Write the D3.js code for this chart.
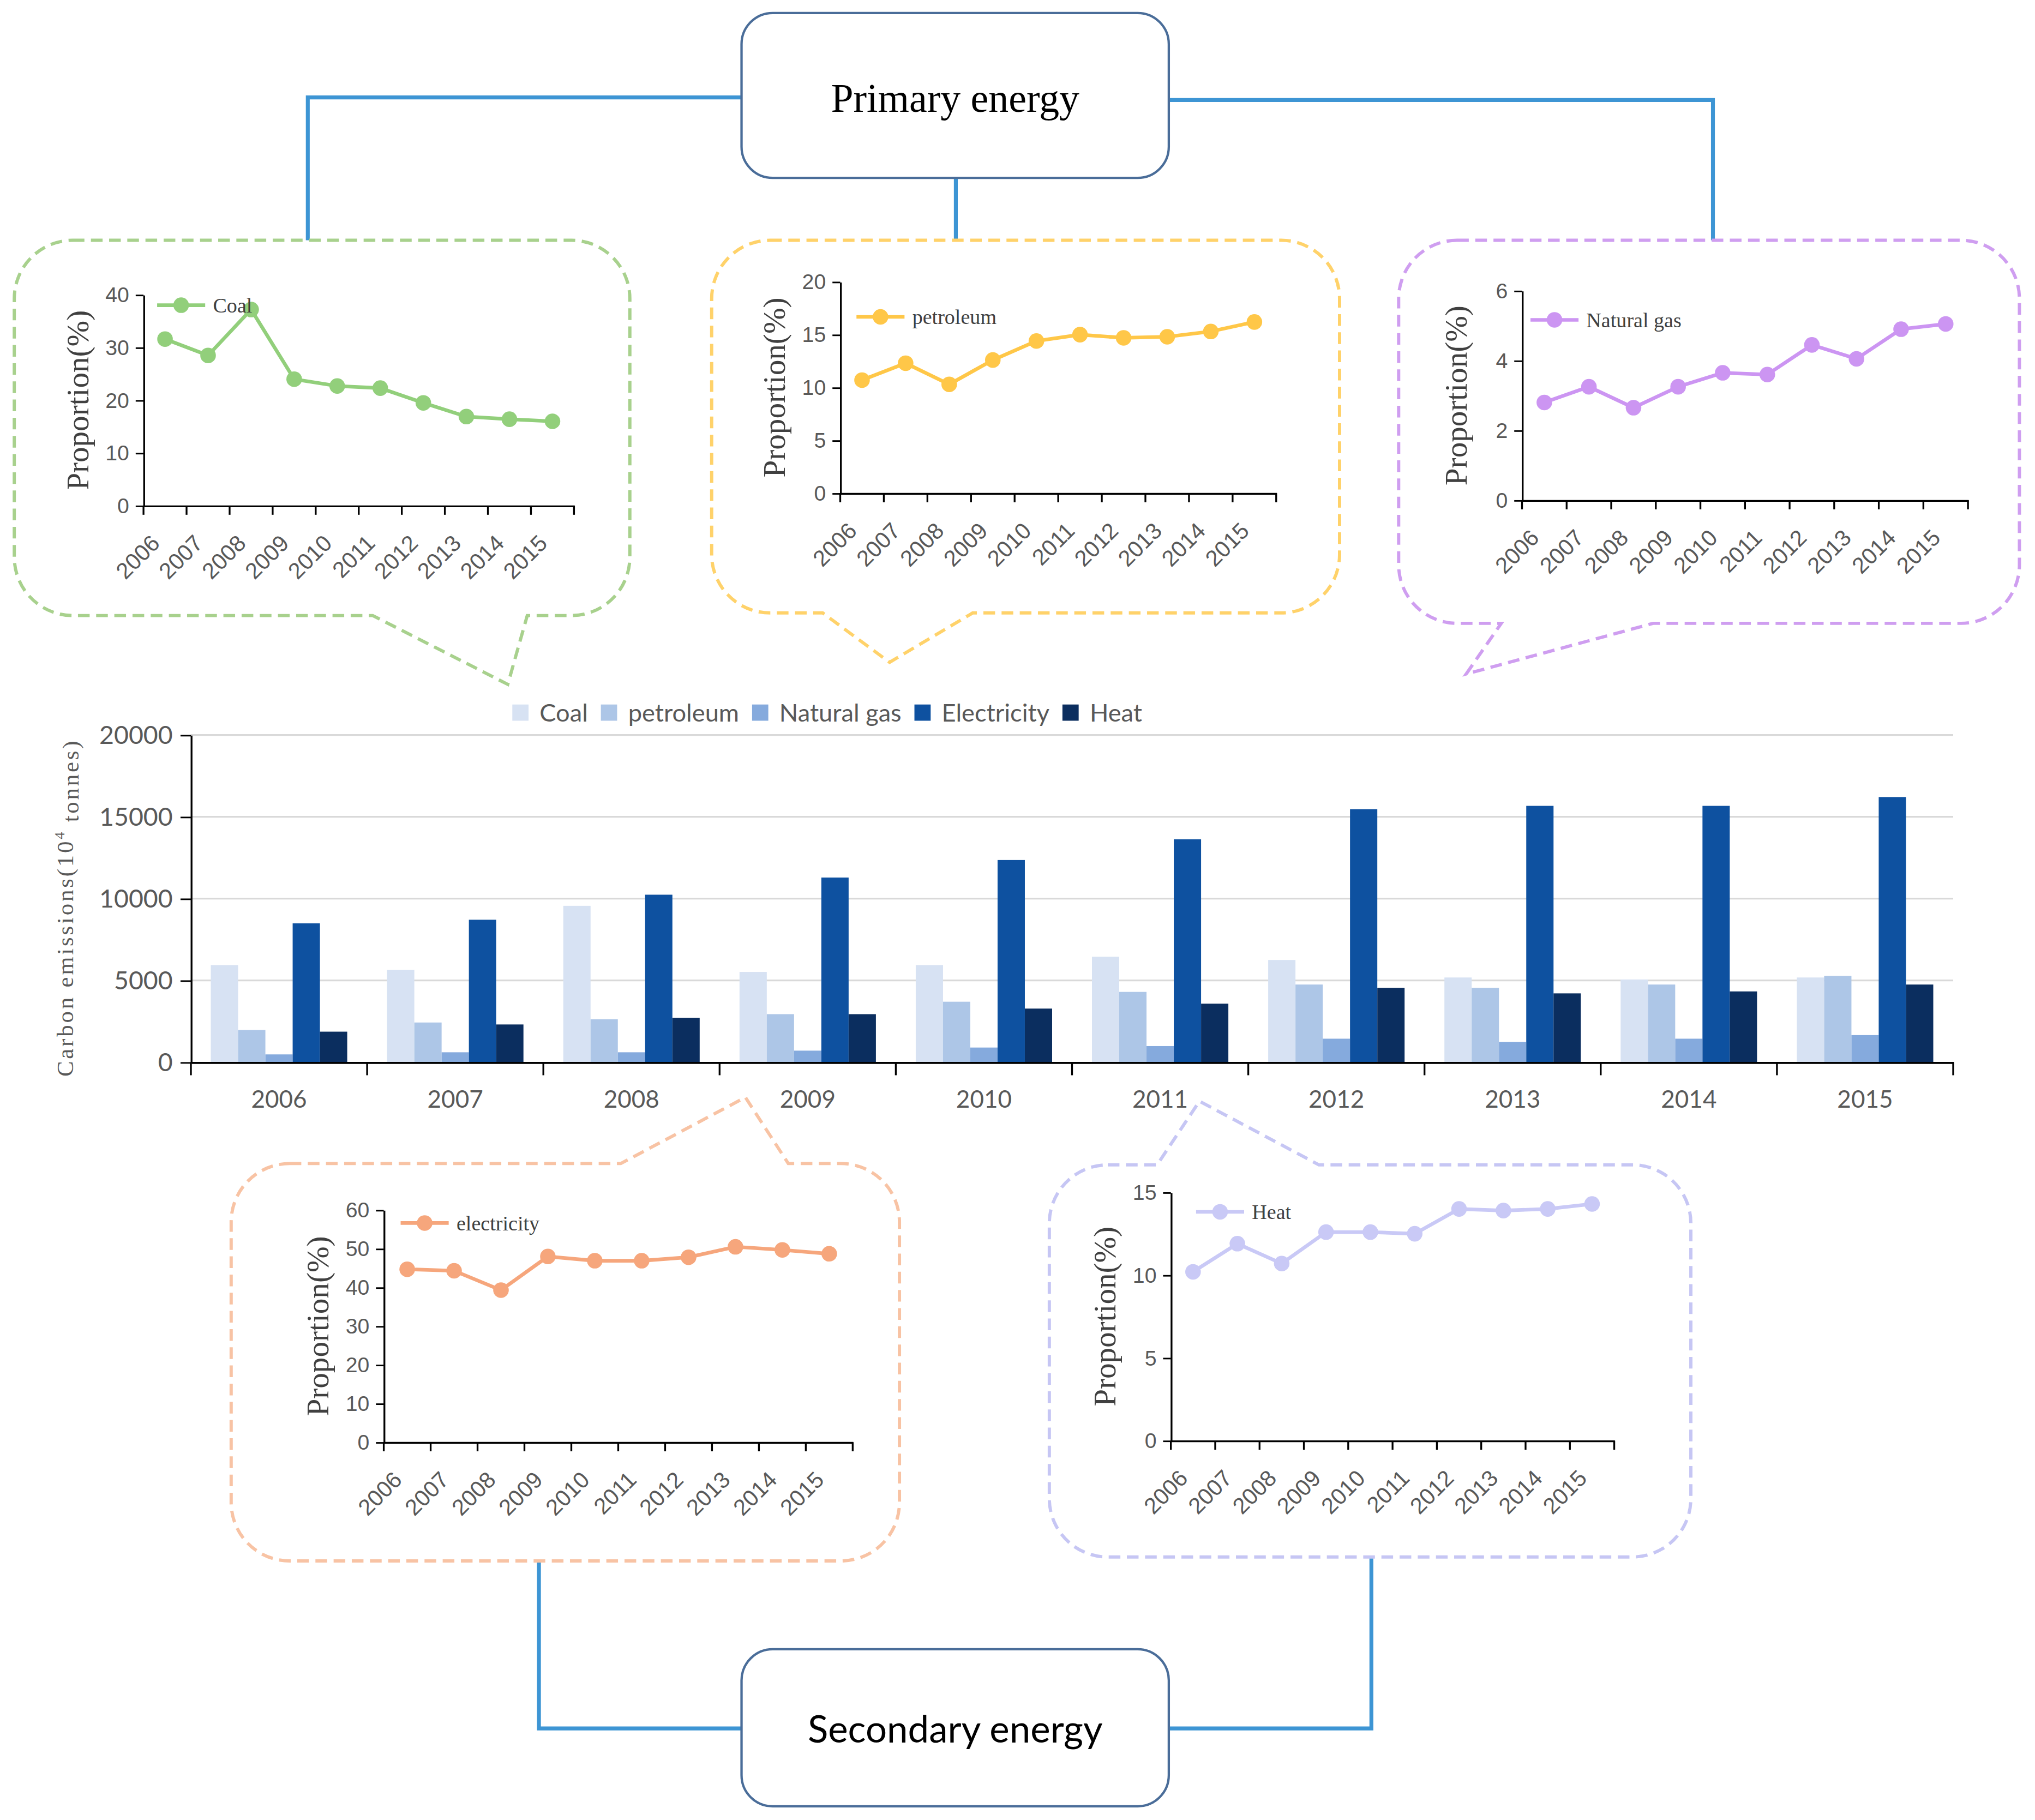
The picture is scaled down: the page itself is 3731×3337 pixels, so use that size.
<!DOCTYPE html>
<html>
<head>
<meta charset="utf-8">
<script src="https://cdn.jsdelivr.net/npm/d3@7"></script>
<style>
html, body { margin: 0; padding: 0; background: #fff; }
svg { display: block; }
</style>
</head>
<body>
<div id="chart"></div>
<script>
// years shown on every axis
var years = ["2006", "2007", "2008", "2009", "2010", "2011", "2012", "2013", "2014", "2015"];

// proportion of each energy type (%)
var coalShare = [31.6, 28.5, 37.2, 24.0, 22.7, 22.3, 19.5, 16.9, 16.4, 16.0];
var petroleumShare = [10.7, 12.3, 10.3, 12.6, 14.4, 15.0, 14.7, 14.8, 15.3, 16.2];
var gasShare = [2.8, 3.25, 2.65, 3.25, 3.65, 3.6, 4.45, 4.05, 4.9, 5.05];
var electricityShare = [44.7, 44.3, 39.3, 48.0, 46.9, 46.9, 47.8, 50.5, 49.7, 48.7];
var heatShare = [10.2, 11.9, 10.7, 12.6, 12.6, 12.5, 14.0, 13.9, 14.0, 14.3];

var coalTicks = [0, 10, 20, 30, 40];
var petroleumTicks = [0, 5, 10, 15, 20];
var gasTicks = [0, 2, 4, 6];
var electricityTicks = [0, 10, 20, 30, 40, 50, 60];
var heatTicks = [0, 5, 10, 15];

// carbon emissions (10^4 tonnes)
var emissionSeries = ["Coal", "petroleum", "Natural gas", "Electricity", "Heat"];
var coalEmission = [5940, 5650, 9560, 5520, 5940, 6450, 6250, 5180, 5060, 5180];
var petroleumEmission = [1970, 2430, 2630, 2940, 3700, 4300, 4750, 4550, 4750, 5280];
var gasEmission = [480, 610, 610, 710, 900, 990, 1440, 1240, 1440, 1660];
var electricityEmission = [8490, 8710, 10240, 11290, 12360, 13630, 15470, 15670, 15670, 16210];
var heatEmission = [1870, 2310, 2720, 2940, 3280, 3580, 4550, 4210, 4330, 4750];
var emissionTicks = [0, 5000, 10000, 15000, 20000];

var W = 1567, H = 1401.5;
var svg = d3.select("#chart").append("svg")
	.attr("width", 3731)
	.attr("height", 3337)
	.attr("viewBox", "0 0 " + W + " " + H);

svg.append("rect").attr("width", W).attr("height", H).attr("fill", "#fff");

var sansFont = "Lato, 'Liberation Sans', sans-serif";
var armFont = "'Liberation Sans', Arial, sans-serif";
var serifFont = "'Liberation Serif', 'Times New Roman', serif";
var grey = "#595959";
var plain = d3.format("d");

//Connectors between the title boxes and the callouts
var blue = "#3d95d4";
function connector(points)
{
	svg.append("path")
		.attr("d", d3.line()(points))
		.attr("fill", "none")
		.attr("stroke", blue)
		.attr("stroke-width", 3);
}
connector([[571, 75], [237, 75], [237, 186]]);
connector([[736, 137], [736, 186]]);
connector([[900, 77], [1319, 77], [1319, 186]]);
connector([[571, 1331], [415, 1331], [415, 1202]]);
connector([[900, 1331], [1056, 1331], [1056, 1199]]);

function titleBox(x, y, w, h, label, font, size, baseline)
{
	svg.append("rect")
		.attr("x", x).attr("y", y)
		.attr("width", w).attr("height", h)
		.attr("rx", 24).attr("ry", 24)
		.attr("fill", "#fff")
		.attr("stroke", "#4a6d99")
		.attr("stroke-width", 1.8);
	svg.append("text")
		.attr("x", x + w / 2)
		.attr("y", baseline)
		.attr("text-anchor", "middle")
		.attr("font-family", font)
		.attr("font-size", size)
		.attr("fill", "#000")
		.text(label);
}
titleBox(571, 10, 329, 127, "Primary energy", serifFont, 31, 86);
titleBox(571, 1270, 329, 121, "Secondary energy", sansFont, 29, 1342);

// rounded box with a pointed tail on its top or bottom edge
function calloutPath(b)
{
	var r = b.r, p = d3.path();
	p.moveTo(b.x0 + r, b.y0);
	if(b.side == "top")
	{
		p.lineTo(b.a, b.y0);
		p.lineTo(b.tip[0], b.tip[1]);
		p.lineTo(b.b, b.y0);
	}
	p.lineTo(b.x1 - r, b.y0);
	p.arcTo(b.x1, b.y0, b.x1, b.y0 + r, r);
	p.lineTo(b.x1, b.y1 - r);
	p.arcTo(b.x1, b.y1, b.x1 - r, b.y1, r);
	if(b.side == "bottom")
	{
		p.lineTo(b.b, b.y1);
		p.lineTo(b.tip[0], b.tip[1]);
		p.lineTo(b.a, b.y1);
	}
	p.lineTo(b.x0 + r, b.y1);
	p.arcTo(b.x0, b.y1, b.x0, b.y1 - r, r);
	p.lineTo(b.x0, b.y0 + r);
	p.arcTo(b.x0, b.y0, b.x0 + r, b.y0, r);
	p.closePath();
	return p.toString();
}

var minis = [
	{label: "Coal", values: coalShare, max: 40, ticks: coalTicks, color: "#92cf7b", boxColor: "#a8d18d",
		left: 110.5, right: 442, top: 227, bottom: 389.4, legend: [10.5, 8],
		box: {x0: 11, y0: 185, x1: 485, y1: 474, r: 45, side: "bottom", a: 287, tip: [391, 527], b: 406}},
	{label: "petroleum", values: petroleumShare, max: 20, ticks: petroleumTicks, color: "#ffc748", boxColor: "#ffd26a",
		left: 647, right: 982.7, top: 217, bottom: 379.8, legend: [12.5, 27],
		box: {x0: 548, y0: 185, x1: 1031.5, y1: 472, r: 45, side: "bottom", a: 633.5, tip: [685, 510], b: 749}},
	{label: "Natural gas", values: gasShare, max: 6, ticks: gasTicks, color: "#cc95f2", boxColor: "#cf9ef0",
		left: 1172, right: 1515.4, top: 223.9, bottom: 385.2, legend: [6.5, 22.4],
		box: {x0: 1077, y0: 185, x1: 1555, y1: 480, r: 45, side: "bottom", a: 1156, tip: [1129, 519], b: 1273}},
	{label: "electricity", values: electricityShare, max: 60, ticks: electricityTicks, color: "#f6a67c", boxColor: "#f8c3a4",
		left: 295.5, right: 656.6, top: 931.8, bottom: 1110.6, legend: [13, 10],
		box: {x0: 178, y0: 896, x1: 692.6, y1: 1202, r: 45, side: "top", a: 478, tip: [574, 845], b: 607}},
	{label: "Heat", values: heatShare, max: 15, ticks: heatTicks, color: "#c9c9f6", boxColor: "#c6c6f4",
		left: 901.6, right: 1243, top: 918.2, bottom: 1109.4, legend: [19.4, 15],
		box: {x0: 808, y0: 897, x1: 1302, y1: 1199, r: 45, side: "top", a: 891, tip: [923.6, 848], b: 1015.6}}
];

minis.forEach(function(c)
{
	var g = svg.append("g");

	g.append("path")
		.attr("d", calloutPath(c.box))
		.attr("fill", "#fff")
		.attr("stroke", c.boxColor)
		.attr("stroke-width", 2.5)
		.attr("stroke-dasharray", "9,5");

	var x = d3.scaleBand().domain(years).range([c.left, c.right]);
	var y = d3.scaleLinear().domain([0, c.max]).range([c.bottom, c.top]);

	//X axis, labels rotated
	var xa = g.append("g")
		.attr("transform", "translate(0," + c.bottom + ")")
		.call(d3.axisBottom(x).tickSize(0).tickSizeOuter(0));
	xa.select(".domain").attr("stroke", "#000").attr("stroke-width", 1.4);
	xa.selectAll(".tick text")
		.attr("y", 0)
		.attr("dy", 0)
		.attr("transform", "translate(-3,30) rotate(-45)")
		.style("text-anchor", "end")
		.attr("font-family", armFont)
		.attr("font-size", 17.5)
		.attr("fill", grey);

	// tick marks sit on the band edges
	var edges = years.map(function(d) { return x(d); }).concat([x.range()[1]]);
	g.selectAll(".edge").data(edges).enter().append("line")
		.attr("x1", function(d) { return d; })
		.attr("x2", function(d) { return d; })
		.attr("y1", c.bottom)
		.attr("y2", c.bottom + 7)
		.attr("stroke", "#000")
		.attr("stroke-width", 1.4);

	//Y axis
	var ya = g.append("g")
		.attr("transform", "translate(" + c.left + ",0)")
		.call(d3.axisLeft(y).tickValues(c.ticks).tickFormat(plain).tickSize(6).tickPadding(5).tickSizeOuter(0));
	ya.select(".domain").attr("stroke", "#000").attr("stroke-width", 1.4);
	ya.selectAll(".tick line").attr("stroke", "#000").attr("stroke-width", 1.2);
	ya.selectAll(".tick text")
		.attr("font-family", armFont)
		.attr("font-size", 16.5)
		.attr("fill", grey);

	g.append("text")
		.attr("transform", "translate(" + (c.left - 51) + "," + ((c.top + c.bottom) / 2) + ") rotate(-90)")
		.attr("text-anchor", "middle")
		.attr("dy", "0.35em")
		.attr("font-family", serifFont)
		.attr("font-size", 24)
		.attr("fill", "#404040")
		.text("Proportion(%)");

	//Series line and markers
	var pts = c.values.map(function(v, i) { return {year: years[i], value: v}; });
	var line = d3.line()
		.x(function(d) { return x(d.year) + x.bandwidth() / 2; })
		.y(function(d) { return y(d.value); });

	g.append("path")
		.datum(pts)
		.attr("d", line)
		.attr("fill", "none")
		.attr("stroke", c.color)
		.attr("stroke-width", 2.8);

	g.selectAll(".pt").data(pts).enter().append("circle")
		.attr("cx", function(d) { return x(d.year) + x.bandwidth() / 2; })
		.attr("cy", function(d) { return y(d.value); })
		.attr("r", 6)
		.attr("fill", c.color);

	//Legend
	var lx = c.left + c.legend[0], ly = c.top + c.legend[1];
	g.append("line")
		.attr("x1", lx).attr("x2", lx + 37)
		.attr("y1", ly).attr("y2", ly)
		.attr("stroke", c.color)
		.attr("stroke-width", 2.8);
	g.append("circle")
		.attr("cx", lx + 18.5).attr("cy", ly)
		.attr("r", 6)
		.attr("fill", c.color);
	g.append("text")
		.attr("x", lx + 43)
		.attr("y", ly)
		.attr("dy", "0.35em")
		.attr("font-family", serifFont)
		.attr("font-size", 16)
		.attr("fill", "#404040")
		.text(c.label);
});

//Grouped bar chart of emissions
var barColors = ["#d7e2f3", "#adc6e7", "#85aadd", "#0e51a0", "#0b2e5f"];
var bx = d3.scaleBand().domain(years).range([147, 1504]);
var bs = d3.scaleBand().domain(emissionSeries).range([0, bx.bandwidth()]).paddingOuter(0.73);
var by = d3.scaleLinear().domain([0, 20000]).range([818, 566]);

var bars = svg.append("g");

bars.selectAll(".grid").data(emissionTicks.slice(1)).enter().append("line")
	.attr("x1", 147).attr("x2", 1504)
	.attr("y1", function(d) { return by(d); })
	.attr("y2", function(d) { return by(d); })
	.attr("stroke", "#d9d9d9")
	.attr("stroke-width", 1.3);

var rows = years.map(function(yr, i)
{
	return {year: yr, values: [coalEmission[i], petroleumEmission[i], gasEmission[i], electricityEmission[i], heatEmission[i]]};
});

bars.selectAll(".yr").data(rows).enter().append("g")
	.attr("transform", function(d) { return "translate(" + bx(d.year) + ",0)"; })
	.selectAll("rect")
	.data(function(d) { return d.values.map(function(v, j) { return {series: emissionSeries[j], value: v, color: barColors[j]}; }); })
	.enter().append("rect")
		.attr("x", function(d) { return bs(d.series); })
		.attr("width", bs.bandwidth())
		.attr("y", function(d) { return by(d.value); })
		.attr("height", function(d) { return by(0) - by(d.value); })
		.attr("fill", function(d) { return d.color; });

var bxa = bars.append("g")
	.attr("transform", "translate(0,818)")
	.call(d3.axisBottom(bx).tickSize(0).tickSizeOuter(0).tickPadding(22));
bxa.select(".domain").attr("stroke", "#000").attr("stroke-width", 1.6);
bxa.selectAll(".tick text")
	.attr("font-family", sansFont)
	.attr("font-size", 18.5)
	.attr("fill", grey);

var bedges = years.map(function(d) { return bx(d); }).concat([bx.range()[1]]);
bars.selectAll(".bedge").data(bedges).enter().append("line")
	.attr("x1", function(d) { return d; })
	.attr("x2", function(d) { return d; })
	.attr("y1", 818)
	.attr("y2", 828)
	.attr("stroke", "#000")
	.attr("stroke-width", 1.4);

var bya = bars.append("g")
	.attr("transform", "translate(147,0)")
	.call(d3.axisLeft(by).tickValues(emissionTicks).tickFormat(plain).tickSize(8).tickPadding(6).tickSizeOuter(0));
bya.select(".domain").attr("stroke", "#000").attr("stroke-width", 1.4);
bya.selectAll(".tick line").attr("stroke", "#000").attr("stroke-width", 1.2);
bya.selectAll(".tick text")
	.attr("font-family", sansFont)
	.attr("font-size", 19.5)
	.attr("fill", grey);

var ylab = bars.append("text")
	.attr("transform", "translate(50,699) rotate(-90)")
	.attr("text-anchor", "middle")
	.attr("dy", "0.35em")
	.attr("font-family", serifFont)
	.attr("font-size", 18)
	.attr("letter-spacing", 1.6)
	.attr("fill", grey);
ylab.append("tspan").text("Carbon emissions(10");
ylab.append("tspan").attr("font-size", 11).attr("dy", "-0.6em").text("4");
ylab.append("tspan").attr("dy", "0.6em").text(" tonnes)");

//Bar legend
var legX = 394.5;
emissionSeries.forEach(function(s, i)
{
	bars.append("rect")
		.attr("x", legX).attr("y", 542.5)
		.attr("width", 12.5).attr("height", 12.5)
		.attr("fill", barColors[i]);
	var t = bars.append("text")
		.attr("x", legX + 21)
		.attr("y", 549)
		.attr("dy", "0.35em")
		.attr("font-family", sansFont)
		.attr("font-size", 19)
		.attr("fill", grey)
		.text(s);
	legX += 21 + t.node().getComputedTextLength() + 10;
});
</script>
</body>
</html>
